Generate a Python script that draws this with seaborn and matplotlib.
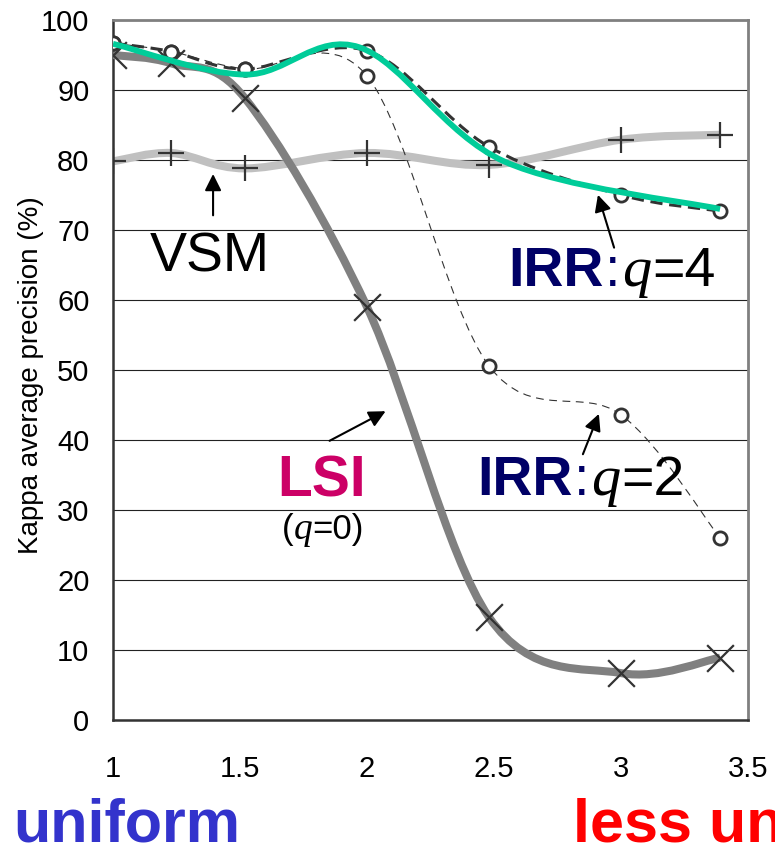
import numpy as np
import matplotlib
matplotlib.use("Agg")
import matplotlib.pyplot as plt
from matplotlib.path import Path
from matplotlib.patches import PathPatch
from matplotlib.offsetbox import TextArea, HPacker, AnnotationBbox
import seaborn as sns

# x positions of the measured points (shared by all series)
x_vals = [1.0, 1.23, 1.52, 2.0, 2.48, 3.0, 3.39]

vsm = [79.8, 81.0, 78.8, 81.0, 79.3, 82.9, 83.6]
lsi = [95.0, 93.8, 88.8, 59.0, 14.7, 6.7, 8.9]
irr_q2 = [96.7, 95.5, 93.0, 92.0, 50.6, 43.6, 26.0]
irr_q4 = [96.7, 95.5, 93.0, 95.6, 81.9, 75.0, 72.7]

# hand drawn teal overlay
teal_x = [1.0, 1.52, 1.97, 2.54, 3.39]
teal_y = [96.6, 92.2, 96.1, 79.8, 73.0]

y_ticks = [0, 10, 20, 30, 40, 50, 60, 70, 80, 90, 100]
x_ticks = [1, 1.5, 2, 2.5, 3, 3.5]
x_ticklabels = ["1", "1.5", "2", "2.5", "3", "3.5"]

sns.set_style("white")
SANS = ["Liberation Sans", "DejaVu Sans"]
SERIF = ["Liberation Serif", "DejaVu Serif"]
plt.rcParams["font.family"] = SANS
plt.rcParams["text.color"] = "black"
plt.rcParams["axes.labelcolor"] = "black"


def smooth_path(xs, ys):
    # excel style smoothed line: bezier segments through every point
    pts = np.column_stack([xs, ys]).astype(float)
    n = len(pts)
    verts = [pts[0]]
    codes = [Path.MOVETO]
    for i in range(n - 1):
        p0 = pts[i - 1] if i > 0 else pts[i]
        p1, p2 = pts[i], pts[i + 1]
        p3 = pts[i + 2] if i + 2 < n else pts[i + 1]
        verts += [p1 + (p2 - p0) / 6, p2 - (p3 - p1) / 6, p2]
        codes += [Path.CURVE4] * 3
    return Path(verts, codes)


def add_line(ax, xs, ys, **kw):
    ax.add_patch(PathPatch(smooth_path(xs, ys), fill=False, capstyle="butt", **kw))


fig = plt.figure(figsize=(7.75, 8.49), dpi=100)
ax = fig.add_axes([113 / 775, 1 - 720 / 849, 635 / 775, 700 / 849])

# lines
add_line(ax, x_vals, vsm, edgecolor="#c0c0c0", lw=5.8, zorder=2)
add_line(ax, x_vals, lsi, edgecolor="#808080", lw=5.8, zorder=3)
add_line(ax, x_vals, irr_q2, edgecolor="#333333", lw=0.8, linestyle=(0, (7, 5)), zorder=3)
add_line(ax, x_vals, irr_q4, edgecolor="#333333", lw=2.2, linestyle=(0, (4, 2.2)), zorder=4)

# markers
sns.scatterplot(x=x_vals, y=vsm, marker="+", s=370, color="#333333", linewidth=1.6, ax=ax, zorder=5)
sns.scatterplot(x=x_vals, y=lsi, marker="x", s=370, color="#333333", linewidth=1.6, ax=ax, zorder=5)
sns.scatterplot(x=x_vals, y=irr_q2, marker="o", s=90, color="white", edgecolor="#333333",
                linewidth=2, ax=ax, zorder=5)
sns.scatterplot(x=x_vals, y=irr_q4, marker="o", s=90, color="white", edgecolor="#333333",
                linewidth=2, ax=ax, zorder=5)

add_line(ax, teal_x, teal_y, edgecolor="#00cc99", lw=4.2, zorder=6)

ax.set_xlim(1, 3.5)
ax.set_ylim(0, 100)
ax.set_xticks(x_ticks)
ax.set_xticklabels(x_ticklabels)
ax.set_yticks(y_ticks)
ax.tick_params(axis="both", labelsize=21, direction="out", length=7, width=1.5, color="#333333",
               labelcolor="black")
ax.tick_params(axis="x", pad=18)
ax.tick_params(axis="y", pad=10)
ax.yaxis.grid(True, color="#222222", lw=0.8)
ax.set_axisbelow(True)
for s in ["top", "right"]:
    ax.spines[s].set_color("#808080")
    ax.spines[s].set_linewidth(2)
for s in ["left", "bottom"]:
    ax.spines[s].set_color("#333333")
    ax.spines[s].set_linewidth(1.8)
ax.set_ylabel("Kappa average precision (%)", fontsize=20)
ax.yaxis.set_label_coords(-0.108, 0.493)

# annotations
arrow = dict(arrowstyle="-|>", color="black", lw=1.5, mutation_scale=25)
ax.annotate("", xy=(1.394, 78.4), xytext=(1.394, 71.7), arrowprops=arrow)
ax.text(1.38, 64, "VSM", fontsize=40, ha="center", va="baseline")

ax.annotate("", xy=(2.906, 75.4), xytext=(2.976, 67.1), arrowprops=arrow)
ax.annotate("", xy=(2.917, 44.1), xytext=(2.846, 37.6), arrowprops=arrow)
ax.annotate("", xy=(2.083, 44.3), xytext=(1.843, 39.7), arrowprops=arrow)


def irr_label(q, xy):
    parts = [
        TextArea("IRR", textprops=dict(color="#000066", fontsize=40, fontweight="bold", family=SANS)),
        TextArea(":", textprops=dict(color="#000066", fontsize=40, family=SANS)),
        TextArea("q", textprops=dict(color="black", fontsize=42, style="italic", family=SERIF)),
        TextArea("=" + q, textprops=dict(color="black", fontsize=40, family=SANS)),
    ]
    box = HPacker(children=parts, align="baseline", pad=0, sep=1)
    ab = AnnotationBbox(box, xy, xycoords="data", box_alignment=(0, 0.2), frameon=False)
    ax.add_artist(ab)


irr_label("4", (2.555, 61.7))
irr_label("2", (2.433, 31.9))

ax.text(1.823, 31.9, "LSI", fontsize=41, fontweight="bold", color="#cc0066", ha="center", va="baseline")
q0 = [
    TextArea("(", textprops=dict(fontsize=25, color="black", family=SANS)),
    TextArea("q", textprops=dict(fontsize=27, color="black", style="italic", family=SERIF)),
    TextArea("=0)", textprops=dict(fontsize=25, color="black", family=SANS)),
]
ax.add_artist(AnnotationBbox(HPacker(children=q0, align="baseline", pad=0, sep=0),
                             (1.827, 26.0), xycoords="data", box_alignment=(0.5, 0.25), frameon=False))

fig.text(13 / 775, 1 - 841 / 849, "uniform", fontsize=44, fontweight="bold", color="#3333cc",
         ha="left", va="baseline")
fig.text(573 / 775, 1 - 841 / 849, "less uniform", fontsize=44, fontweight="bold", color="#ff0000",
         ha="left", va="baseline")

fig.savefig("out.png", dpi=100)
